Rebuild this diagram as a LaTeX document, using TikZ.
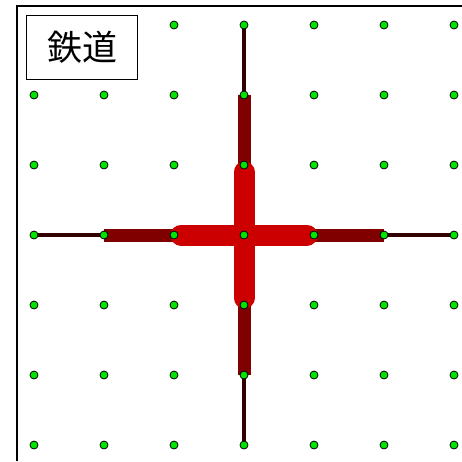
\documentclass[tikz,border=0pt]{standalone}
\usepackage{fontspec}
\newfontfamily\jpfont{Noto Sans CJK JP}

\begin{document}
\begin{tikzpicture}[
  x=1pt, y=-1pt,
  dot/.style={circle, fill=green!90!black, draw=black, line width=0.8pt,
              inner sep=0pt, minimum size=8pt},
  label/.style={draw=black, line width=1.5pt, fill=white, inner sep=0pt,
                minimum width=111pt, minimum height=64pt, font=\jpfont\fontsize{35}{35}\selectfont},
  thinrail/.style={draw=black!80!red, line width=4.5pt, line cap=butt},
  midrail/.style={draw=red!50!black, line width=13pt, line cap=butt},
  mainrail/.style={draw=red!80!black, line width=21pt, line cap=round,
                   shorten <=7pt, shorten >=7pt}
]
  \useasboundingbox (0,0) rectangle (462,461);
  % grid points
  \foreach \i in {0,...,6}
    \foreach \j in {0,...,6}
      \coordinate (c-\i-\j) at ({34+70*\i},{25+70*\j});
  % frame
  \draw[line width=2pt] (17,461) -- (17,6) -- (462,6);
  % tracks
  \draw[thinrail] (c-0-3) -- (c-1-3);
  \draw[thinrail] (c-5-3) -- (c-6-3);
  \draw[thinrail] (c-3-0) -- (c-3-1);
  \draw[thinrail] (c-3-5) -- (c-3-6);
  \draw[midrail] (c-1-3) -- (c-2-3);
  \draw[midrail] (c-4-3) -- (c-5-3);
  \draw[midrail] (c-3-1) -- (c-3-2);
  \draw[midrail] (c-3-4) -- (c-3-5);
  \draw[mainrail] (c-2-3) -- (c-4-3);
  \draw[mainrail] (c-3-2) -- (c-3-4);
  \foreach \i in {0,...,6}
    \foreach \j in {0,...,6}
      \node[dot] (p-\i-\j) at (c-\i-\j) {};
  % title
  \node[label] (title) at (82,47.5) {鉄道};
\end{tikzpicture}
\end{document}
